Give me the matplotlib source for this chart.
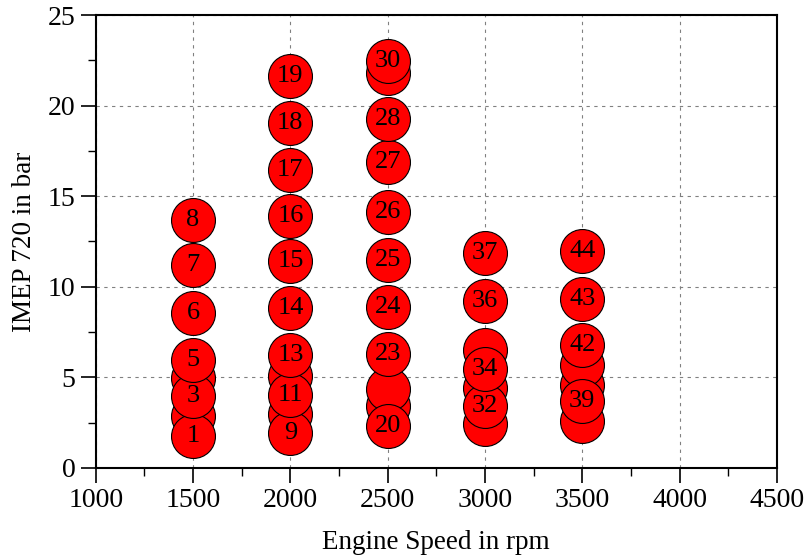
import numpy as np
import matplotlib
matplotlib.use('Agg')
import matplotlib.pyplot as plt

plt.rcParams['font.family'] = ['Liberation Serif', 'DejaVu Serif']

# operating points: engine speed (rpm) and IMEP (bar), numbered 1..44
speed = [1500] * 8 + [2000] * 11 + [2500] * 11 + [3000] * 7 + [3500] * 7
imep = [1.75, 2.85, 3.95, 4.95, 5.95, 8.55, 11.2, 13.7,
        1.93, 2.98, 4.02, 5.08, 6.24, 8.85, 11.4, 13.9, 16.45, 19.05, 21.65,
        2.32, 3.4, 4.35, 6.3, 8.9, 11.5, 14.1, 16.9, 19.27, 21.8, 22.45,
        2.4, 3.4, 4.4, 5.45, 6.5, 9.2, 11.85,
        2.6, 3.7, 4.6, 5.7, 6.8, 9.35, 11.95]
point_id = list(range(1, len(imep) + 1))

# numbers that are written on the circles (the rest sit underneath)
labeled = [1, 3, 5, 6, 7, 8, 9, 11, 13, 14, 15, 16, 17, 18, 19,
           20, 23, 24, 25, 26, 27, 28, 30, 32, 34, 36, 37,
           39, 42, 43, 44]

fig = plt.figure(figsize=(8.05, 5.57), dpi=100)
ax = fig.add_axes([0.119, 0.16, 0.846, 0.813])

speed = np.array(speed)
imep = np.array(imep)
point_id = np.array(point_id)
on_top = np.isin(point_id, labeled)

ax.scatter(speed[~on_top], imep[~on_top], s=1000, c='red',
           edgecolors='black', linewidths=0.8, zorder=3)
ax.scatter(speed[on_top], imep[on_top], s=1000, c='red',
           edgecolors='black', linewidths=0.8, zorder=4)
for x, y, n in zip(speed[on_top], imep[on_top], point_id[on_top]):
    ax.text(x, y, str(n), ha='center', va='center', fontsize=19, zorder=5)

ax.set_xlim(1000, 4500)
ax.set_ylim(0, 25)
ax.set_xticks(np.arange(1000, 4501, 500))
ax.set_yticks(np.arange(0, 26, 5))
ax.set_xticks(np.arange(1250, 4500, 500), minor=True)
ax.set_yticks(np.arange(2.5, 25, 5), minor=True)
ax.tick_params(which='major', direction='out', length=11, width=1.2, labelsize=20)
ax.tick_params(which='minor', direction='out', length=6, width=1.0)
ax.tick_params(top=False, right=False)
ax.grid(True, which='major', color='gray', linestyle=(0, (3, 4)), linewidth=0.8)
for sp in ax.spines.values():
    sp.set_linewidth(1.5)

ax.set_xlabel('Engine Speed in rpm', fontsize=19.5, labelpad=12)
ax.set_ylabel('IMEP 720 in bar', fontsize=19.5, labelpad=8)

fig.savefig('out.png', dpi=100)
